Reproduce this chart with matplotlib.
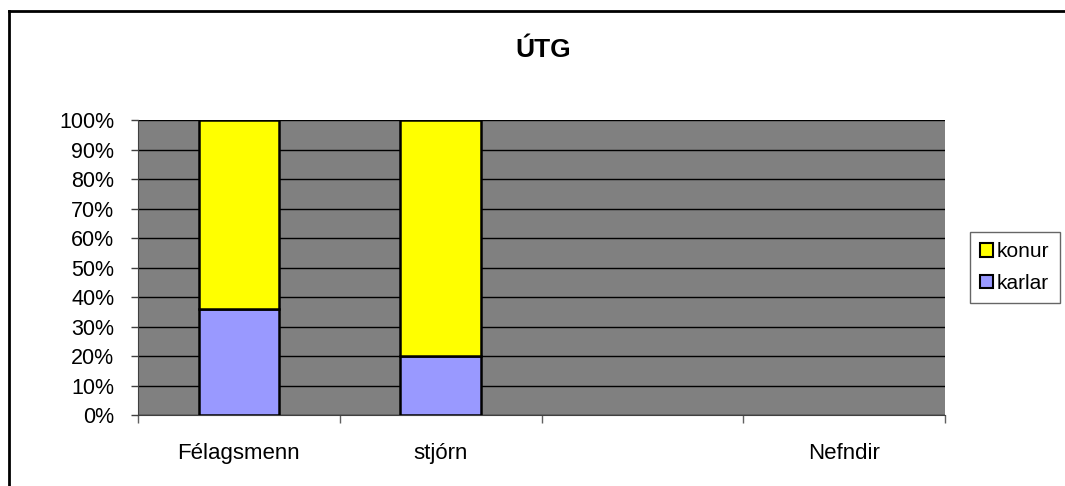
import numpy as np
import matplotlib.pyplot as plt
from matplotlib.patches import Patch
from matplotlib.lines import Line2D

plt.rcParams['font.family'] = ['Liberation Sans', 'DejaVu Sans']

# data
categories = ["Félagsmenn", "stjórn", "", "Nefndir"]
karlar = [36, 20, 0, 0]
konur = [64, 80, 0, 0]
y_ticks = [0, 10, 20, 30, 40, 50, 60, 70, 80, 90, 100]

col_karlar = "#9999FF"
col_konur = "#FFFF00"

fig = plt.figure(figsize=(10.65, 4.86), dpi=100)
ax = fig.add_axes([138/1065, 1-415/486, (945-138)/1065, (415-120)/486])

ax.set_facecolor("#808080")

# empty categories get no bar at all
k_m = np.array(karlar, dtype=float)
f_m = np.array(konur, dtype=float)
empty = (k_m + f_m) == 0
k_m[empty] = np.nan
f_m[empty] = np.nan

x = np.arange(len(categories))
ax.bar(x, k_m, width=0.4, color=col_karlar, edgecolor="black", linewidth=1.8, zorder=3)
ax.bar(x, f_m, width=0.4, bottom=k_m, color=col_konur, edgecolor="black",
       linewidth=1.8, zorder=3)

ax.set_xlim(-0.5, len(categories) - 0.5)
ax.set_ylim(0, 100)

ax.set_yticks(y_ticks)
ax.set_yticklabels([f"{v}%" for v in y_ticks], fontsize=15.5)
ax.yaxis.grid(True, color="black", linewidth=1, zorder=1)
ax.set_axisbelow(True)

ax.set_xticks(x)
ax.set_xticklabels(categories, fontsize=16)
ax.set_xticks([i - 0.5 for i in range(len(categories) + 1)], minor=True)
ax.tick_params(axis="x", which="major", length=0, pad=20)
ax.tick_params(axis="x", which="minor", length=6, color="#606060", width=1)
ax.tick_params(axis="y", length=5, width=1, color="#404040", pad=12)

for s in ["top", "right"]:
    ax.spines[s].set_visible(False)
ax.spines["left"].set_color("#404040")
ax.spines["bottom"].set_color("#404040")

fig.text(543/1065, 1-57/486, "ÚTG", fontsize=19, fontweight="bold",
         ha="center", va="baseline")

handles = [Patch(facecolor=col_konur, edgecolor="black", linewidth=1.5, label="konur"),
           Patch(facecolor=col_karlar, edgecolor="black", linewidth=1.5, label="karlar")]
leg = fig.legend(handles=handles, loc="upper left",
                 bbox_to_anchor=(970/1065, 1-232/486),
                 fontsize=15, frameon=True, fancybox=False,
                 handlelength=0.6, handleheight=0.6, handletextpad=0.2,
                 borderpad=0.5, labelspacing=0.6, borderaxespad=0)
leg.get_frame().set_edgecolor("#404040")
leg.get_frame().set_linewidth(1)

# outer chart border (left and top edges visible)
fig.add_artist(Line2D([9/1065, 9/1065], [0, 1-11/486], color="black", linewidth=2))
fig.add_artist(Line2D([9/1065, 1], [1-11/486, 1-11/486], color="black", linewidth=2))

plt.savefig("out.png", dpi=100)
